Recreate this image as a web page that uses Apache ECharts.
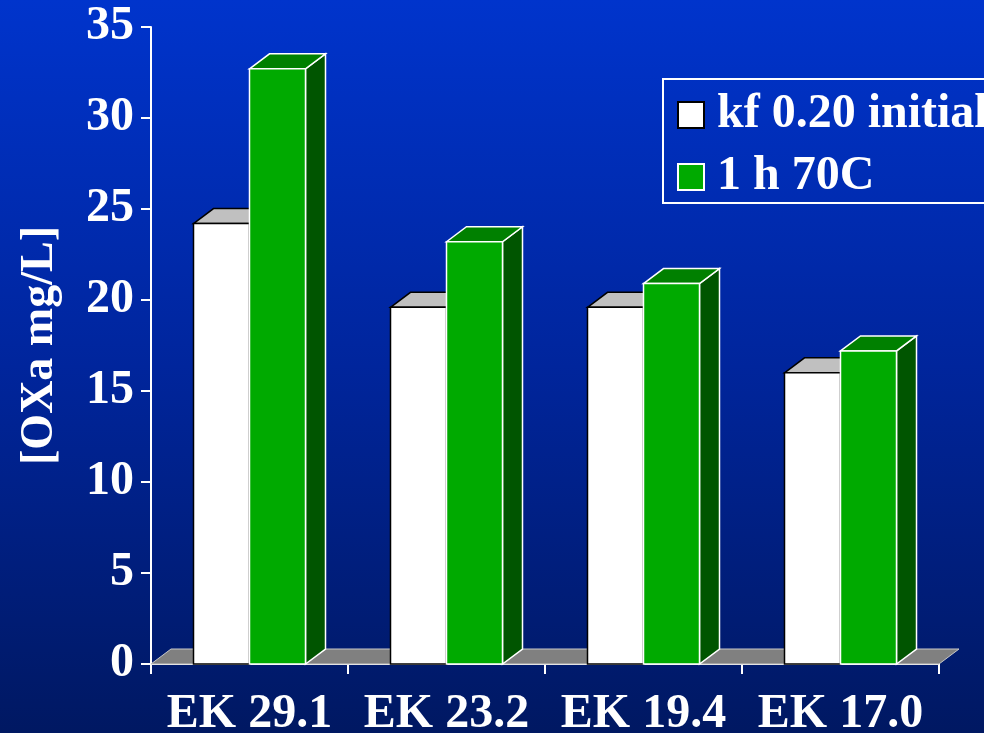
<!DOCTYPE html>
<html>
<head>
<meta charset="utf-8">
<title>OXa</title>
<script src="https://cdn.jsdelivr.net/npm/echarts@6/dist/echarts.min.js"></script>
<style>
  html, body { margin: 0; padding: 0; }
  #chart { width: 984px; height: 733px; }
</style>
</head>
<body>
<div id="chart"></div>
<script>
// Oxalic acid concentration per sample, before and after 1 h at 70C
const categories = ['EK 29.1', 'EK 23.2', 'EK 19.4', 'EK 17.0'];
const initialValues = [24.2, 19.6, 19.6, 16.0];
const heatedValues = [32.7, 23.2, 20.9, 17.2];
const seriesNames = ['kf 0.20 initial', '1 h 70C'];
const yTicks = { min: 0, max: 35, interval: 5 };

const FONT = "'Liberation Serif', 'Times New Roman', serif";
const FS = 48;
const DX = 20, DY = 15, BAR_W = 56;

// colours for each box face: front, top, side, outline
const palettes = [
  { front: '#ffffff', top: '#c0c0c0', side: '#a0a0a0', stroke: '#000000' },
  { front: '#00aa00', top: '#008000', side: '#005500', stroke: '#ffffff' }
];

function box(x, yTop, yBase, pal) {
  const w = BAR_W;
  return {
    type: 'group',
    children: [
      { type: 'polygon', shape: { points: [[x + w, yTop], [x + w + DX, yTop - DY], [x + w + DX, yBase - DY], [x + w, yBase]] },
        style: { fill: pal.side, stroke: pal.stroke, lineWidth: 1.5 } },
      { type: 'polygon', shape: { points: [[x, yTop], [x + DX, yTop - DY], [x + w + DX, yTop - DY], [x + w, yTop]] },
        style: { fill: pal.top, stroke: pal.stroke, lineWidth: 1.5 } },
      { type: 'rect', shape: { x: x, y: yTop, width: w, height: yBase - yTop },
        style: { fill: pal.front, stroke: pal.stroke, lineWidth: 1.5 } }
    ]
  };
}

function barRenderer(seriesIdx) {
  return function (params, api) {
    const idx = api.value(0);
    const top = api.coord([idx, api.value(1)]);
    const base = api.coord([idx, 0]);
    const x = seriesIdx === 0 ? top[0] - BAR_W : top[0];
    return box(x, top[1], base[1], palettes[seriesIdx]);
  };
}

function floorRenderer(params, api) {
  const cs = params.coordSys;
  const yb = cs.y + cs.height;
  return {
    type: 'polygon',
    shape: { points: [[cs.x, yb], [cs.x + DX, yb - DY], [cs.x + cs.width + DX, yb - DY], [cs.x + cs.width, yb]] },
    style: { fill: '#808080', stroke: '#c8c8c8', lineWidth: 1 }
  };
}

const chart = echarts.init(document.getElementById('chart'));
chart.setOption({
  backgroundColor: {
    type: 'linear', x: 0, y: 0, x2: 0, y2: 1,
    colorStops: [
      { offset: 0, color: '#0034cc' },
      { offset: 0.5, color: '#00259c' },
      { offset: 1, color: '#001862' }
    ]
  },
  animation: false,
  textStyle: { fontFamily: FONT },
  grid: { left: 151, right: 45, top: 27, bottom: 69, containLabel: false, outerBoundsMode: 'none' },
  legend: {
    orient: 'vertical',
    left: 663, top: 79,
    padding: [12, 14, 2, 14],
    itemGap: 14,
    itemWidth: 26, itemHeight: 26,
    borderColor: '#ffffff', borderWidth: 2,
    icon: 'rect',
    textStyle: { color: '#ffffff', fontSize: FS, lineHeight: 48, fontWeight: 'bold', fontFamily: FONT, padding: [0, 0, 0, 8] },
    data: [
      { name: seriesNames[0], itemStyle: { color: '#ffffff', borderColor: '#000000', borderWidth: 2 } },
      { name: seriesNames[1], itemStyle: { color: '#00aa00', borderColor: '#ffffff', borderWidth: 2 } }
    ]
  },
  xAxis: {
    type: 'category',
    data: categories,
    boundaryGap: true,
    axisLine: { lineStyle: { color: '#ffffff', width: 2 } },
    axisTick: { show: true, interval: 0, length: 10, lineStyle: { color: '#ffffff', width: 2 } },
    axisLabel: { interval: 0, color: '#ffffff', fontSize: FS, fontWeight: 'bold', fontFamily: FONT, margin: 27 },
    splitLine: { show: false }
  },
  yAxis: {
    type: 'value',
    min: yTicks.min, max: yTicks.max, interval: yTicks.interval,
    name: '[OXa mg/L]',
    nameLocation: 'middle',
    nameGap: 88,
    nameRotate: 90,
    nameTextStyle: { color: '#ffffff', fontSize: 46, fontWeight: 'bold', fontFamily: FONT },
    axisLine: { show: true, lineStyle: { color: '#ffffff', width: 2 } },
    axisTick: { show: true, length: 10, lineStyle: { color: '#ffffff', width: 2 } },
    axisLabel: { color: '#ffffff', fontSize: FS, fontWeight: 'bold', fontFamily: FONT, margin: 17 },
    splitLine: { show: false }
  },
  series: [
    { type: 'custom', name: 'floor', renderItem: floorRenderer, data: [[0, 0]], z: 1, silent: true, legendHoverLink: false },
    { type: 'custom', name: seriesNames[0], renderItem: barRenderer(0), z: 2,
      itemStyle: { color: '#ffffff', borderColor: '#000000', borderWidth: 2 },
      data: initialValues.map((v, i) => [i, v]) },
    { type: 'custom', name: seriesNames[1], renderItem: barRenderer(1), z: 3,
      itemStyle: { color: '#00aa00', borderColor: '#ffffff', borderWidth: 2 },
      data: heatedValues.map((v, i) => [i, v]) }
  ]
});
</script>
</body>
</html>
